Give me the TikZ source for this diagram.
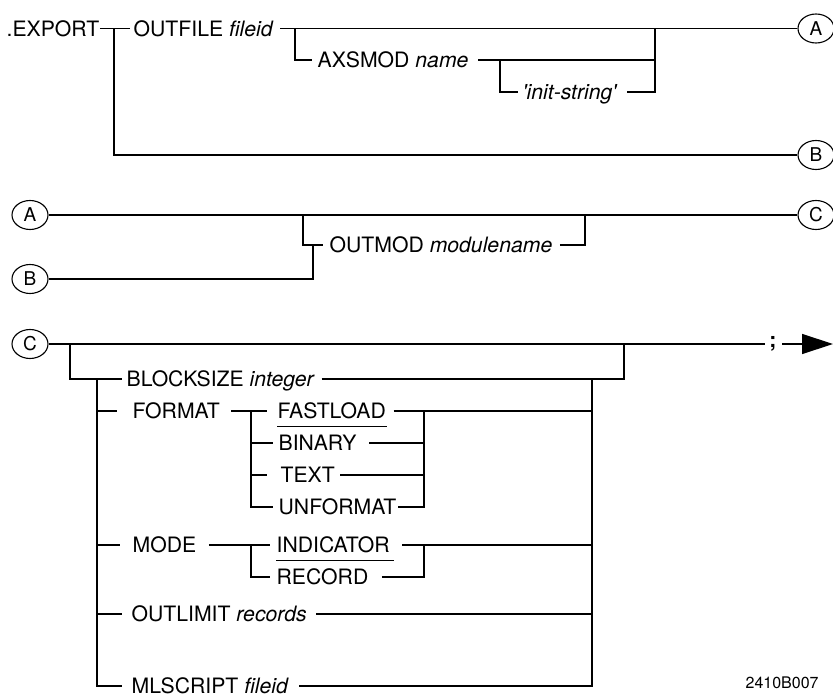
\documentclass[tikz,border=0pt]{standalone}
\usepackage{fontspec}
\setmainfont{TeX Gyre Heros}
\usetikzlibrary{shapes.geometric,arrows.meta}

\begin{document}
\begin{tikzpicture}[x=1pt,y=-1pt,line width=1.3pt,
  lbl/.style={inner xsep=0pt,inner ysep=0pt,text height=15.2pt,text depth=0pt,
              anchor=west,font=\fontsize{21.2}{25}\selectfont},
  conn/.style={draw,ellipse,line width=1.1pt,minimum width=36pt,minimum height=29pt,
               inner sep=0pt,font=\fontsize{19}{21}\selectfont},
  uline/.style={line width=1.1pt}]
\useasboundingbox (0,0) rectangle (833,698);

% ---------- .EXPORT OUTFILE / AXSMOD ----------
\node[lbl] (export) at (6,28.5) {.EXPORT};
\node[lbl] (outfile) at (133,28.5) {OUTFILE \textit{fileid}};
\node[lbl] (axsmod) at (317,60) {AXSMOD \textit{name}};
\node[lbl] (init) at (522,92) {\textit{\textquotesingle init-string\textquotesingle}};
\node[conn] (A1) at (816,28.5) {A};
\node[conn] (B1) at (816,155) {B};

\coordinate (j1) at (114,28.5);
\coordinate (j2) at (295,28.5);
\coordinate (j3) at (500,60);
\coordinate (j4) at (655,28.5);

\draw (export.east) -- ([xshift=-3pt]outfile.west);
\draw (j1) -- (j1 |- B1.west) -- (B1.west);
\draw ([xshift=6pt]outfile.east) -- (A1.west);
\draw (j2) -- (295,60) -- ([xshift=-5pt]axsmod.west);
\draw ([xshift=9pt]axsmod.east) -- (655,60);
\draw (j3) -- (500,92) -- ([xshift=-4pt]init.west);
\draw ([xshift=9pt]init.east) -- (655,92) -- (j4);

% ---------- OUTMOD ----------
\node[conn] (A2) at (30,215) {A};
\node[conn] (B2) at (30,279) {B};
\node[conn] (C2) at (816,215) {C};
\node[lbl] (outmod) at (329,245) {OUTMOD \textit{modulename}};

\coordinate (k1) at (303,215);
\coordinate (k2) at (585,215);
\coordinate (k3) at (313,245);

\draw (A2.east) -- (C2.west);
\draw (k1) -- (303,245) -- ([xshift=-6pt]outmod.west);
\draw ([xshift=7pt]outmod.east) -- (585,245) -- (k2);
\draw (B2.east) -- (313,279) -- (k3);

% ---------- options and terminator ----------
\node[conn] (C3) at (30,344) {C};
\node[inner sep=0pt,font=\bfseries\fontsize{21.2}{25}\selectfont] (semi) at (773,344) {;};
\coordinate (exit) at (833,344);

\draw (C3.east) -- ([xshift=-4pt]semi.west);
\draw[-{Triangle[length=31pt,width=20pt]}] ([xshift=5pt]semi.east) -- (exit);

\node[lbl] (blk) at (126,379) {BLOCKSIZE \textit{integer}};
\node[lbl] (fmt) at (132,411) {FORMAT};
\node[lbl] (fast) at (277,411) {FASTLOAD};
\node[lbl] (bin) at (278,443) {BINARY};
\node[lbl] (txt) at (280,475) {TEXT};
\node[lbl] (unf) at (278,507) {UNFORMAT};
\node[lbl] (mode) at (132,545) {MODE};
\node[lbl] (ind) at (276,545) {INDICATOR};
\node[lbl] (rec) at (276,577) {RECORD};
\node[lbl] (olim) at (131,614) {OUTLIMIT \textit{records}};
\node[lbl] (mls) at (131,686) {MLSCRIPT \textit{fileid}};

% outer bracket (optional group)
\draw (70,344) -- (70,379) -- ([xshift=-4pt]blk.west);
\draw ([xshift=6pt]blk.east) -- (624,379) -- (624,344);
% inner rails
\draw (97,379) -- (97,686) -- ([xshift=-9pt]mls.west);
\draw (592,379) -- (592,686) -- ([xshift=10pt]mls.east);

% FORMAT
\draw (97,411) -- ([xshift=-15pt]fmt.west);
\draw ([xshift=11pt]fmt.east) -- ([xshift=-10pt]fast.west);
\draw ([xshift=7pt]fast.east) -- (592,411);
\draw (251,411) -- (251,507) -- ([xshift=-5pt]unf.west);
\draw (424,411) -- (424,507) -- ([xshift=1pt]unf.east);
\draw (251,443) -- ([xshift=-5pt]bin.west);
\draw ([xshift=12pt]bin.east) -- (424,443);
\draw (251,475) -- ([xshift=-13pt]txt.west);
\draw ([xshift=5pt]txt.east) -- (424,475);
\draw[uline] ([yshift=-7.3pt]fast.south west) -- ([yshift=-7.3pt]fast.south east);

% MODE
\draw (97,545) -- ([xshift=-12pt]mode.west);
\draw ([xshift=12pt]mode.east) -- ([xshift=-6pt]ind.west);
\draw ([xshift=12pt]ind.east) -- (592,545);
\draw (251,545) -- (251,577) -- ([xshift=-6pt]rec.west);
\draw ([xshift=13pt]rec.east) -- (424,577) -- (424,545);
\draw[uline] ([yshift=-7pt]ind.south west) -- ([xshift=4pt,yshift=-7pt]ind.south east);

% OUTLIMIT
\draw (97,614) -- ([xshift=-9pt]olim.west);
\draw ([xshift=9pt]olim.east) -- (592,614);

% figure id
\node[anchor=west,inner sep=0pt,font=\fontsize{16}{18}\selectfont] (figid) at (745,683) {2410B007};
\end{tikzpicture}
\end{document}
